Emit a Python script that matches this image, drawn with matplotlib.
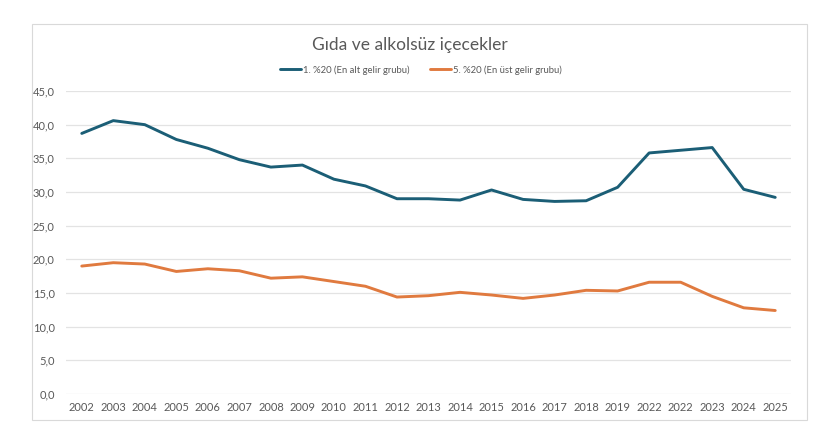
import matplotlib.pyplot as plt
from matplotlib.patches import Rectangle

years = ["2002", "2003", "2004", "2005", "2006", "2007", "2008", "2009", "2010",
         "2011", "2012", "2013", "2014", "2015", "2016", "2017", "2018", "2019",
         "2022", "2022", "2023", "2024", "2025"]
alt_grup = [38.7, 40.6, 40.0, 37.8, 36.5, 34.8, 33.7, 34.0, 31.9, 30.9, 29.0,
            29.0, 28.8, 30.3, 28.9, 28.6, 28.7, 30.7, 35.8, 36.2, 36.6, 30.4, 29.2]
ust_grup = [19.0, 19.5, 19.3, 18.2, 18.6, 18.3, 17.2, 17.4, 16.7, 16.0, 14.4,
            14.6, 15.1, 14.7, 14.2, 14.7, 15.4, 15.3, 16.6, 16.6, 14.5, 12.8, 12.4]
yticks = [0, 5, 10, 15, 20, 25, 30, 35, 40, 45]

plt.rcParams['font.family'] = ['Lato', 'DejaVu Sans']
txt = "#595959"

fig = plt.figure(figsize=(8.2, 4.4), dpi=100)
fig.patches.append(Rectangle((32/820, 1-420/440), 775/820, 396/440, transform=fig.transFigure,
                             fill=False, edgecolor="#d9d9d9", linewidth=0.8))
ax = fig.add_axes([66/820, 1-394/440, 725/820, 303/440])

x = list(range(len(years)))
ax.plot(x, alt_grup, color="#1b5e76", lw=2.1, label="1. %20 (En alt gelir grubu)",
        solid_capstyle="round", solid_joinstyle="round")
ax.plot(x, ust_grup, color="#e07a3f", lw=2.1, label="5. %20 (En üst gelir grubu)",
        solid_capstyle="round", solid_joinstyle="round")

ax.set_xlim(-0.5, len(years) - 0.5)
ax.set_ylim(0, 45)
ax.set_yticks(yticks)
ax.set_yticklabels([f"{v:.1f}".replace(".", ",") for v in yticks])
ax.set_xticks(x)
ax.set_xticklabels(years)
ax.tick_params(length=0, labelsize=8, colors=txt, pad=6)
ax.tick_params(axis="y", pad=8)
ax.grid(axis="y", color="#e3e3e3", lw=0.9)
ax.set_axisbelow(True)
for s in ax.spines.values():
    s.set_visible(False)

fig.text(0.5, 1-45/440, "Gıda ve alkolsüz içecekler", ha="center", va="center",
         fontsize=12.5, color=txt)
fig.legend(loc="center", bbox_to_anchor=(0.513, 1-70/440), ncol=2, frameon=False,
           fontsize=6.8, labelcolor=txt, handlelength=2.2, columnspacing=2.2, handletextpad=0.2)

fig.savefig("out.png", dpi=100)
